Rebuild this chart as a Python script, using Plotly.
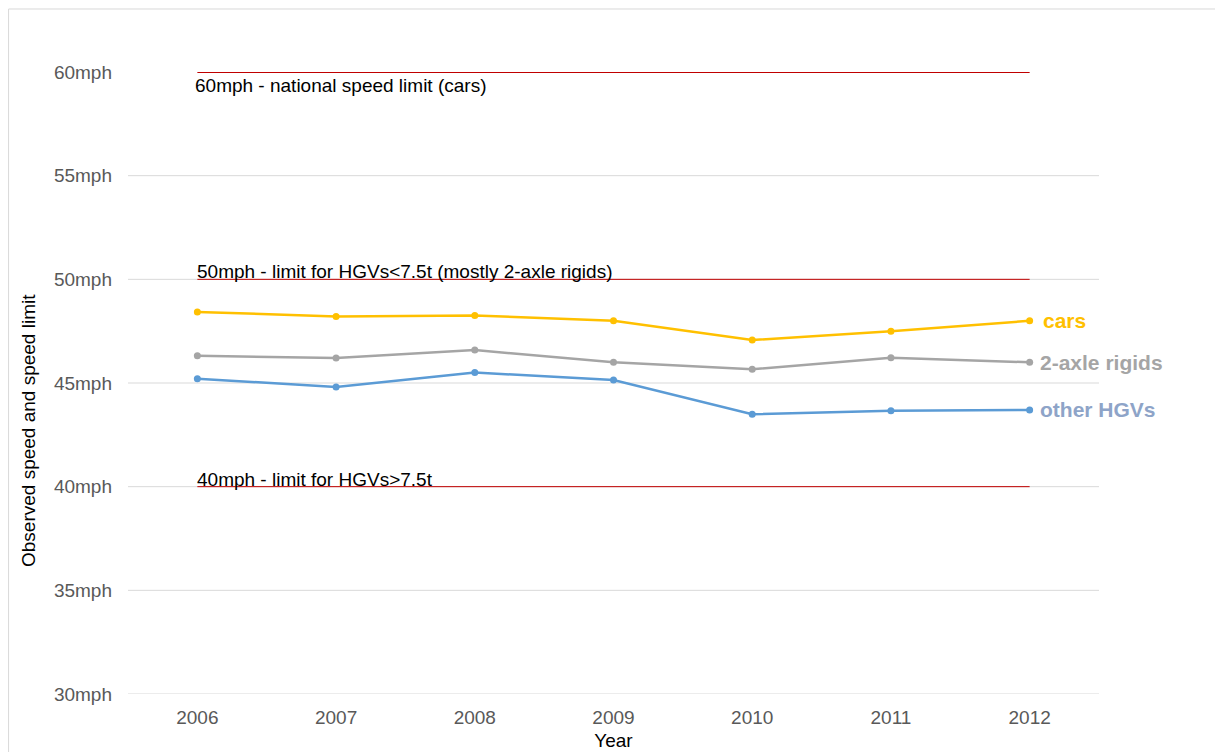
import plotly.graph_objects as go

years = ["2006", "2007", "2008", "2009", "2010", "2011", "2012"]
cars = [48.43, 48.21, 48.26, 48.00, 47.07, 47.50, 48.00]
rigids = [46.32, 46.20, 46.59, 46.00, 45.66, 46.22, 46.00]
other_hgvs = [45.21, 44.81, 45.51, 45.14, 43.49, 43.66, 43.70]

series_names = ["cars", "2-axle rigids", "other HGVs"]
series_values = [cars, rigids, other_hgvs]
line_colors = ["#FFC000", "#A5A5A5", "#5B9BD5"]
label_colors = ["#FFC000", "#A5A5A5", "#8EA4C8"]

limit_values = [60, 50, 40]
limit_labels = ["60mph - national speed limit (cars)",
                "50mph - limit for HGVs&lt;7.5t (mostly 2-axle rigids)",
                "40mph - limit for HGVs&gt;7.5t"]

y_ticks = [30, 35, 40, 45, 50, 55, 60]
y_ticktext = [f"{v}mph" for v in y_ticks]
grid_vals = [30, 35, 40, 45, 50, 55]

FONT = "Liberation Sans, Arial, sans-serif"
first_idx = 0
last_idx = len(years) - 1

fig = go.Figure()

shapes = []
for g in grid_vals:
    shapes.append(dict(type="line", xref="paper", yref="y", x0=0, x1=1, y0=g, y1=g,
                       line=dict(color="#D9D9D9", width=1), layer="below"))
for v in limit_values:
    shapes.append(dict(type="line", xref="x", yref="y", x0=first_idx, x1=last_idx, y0=v, y1=v,
                       line=dict(color="#C00000", width=2 if v == 60 else 1), layer="below"))
# outer border (top and left)
shapes.append(dict(type="line", xref="paper", yref="paper", x0=-0.1230, x1=1.2, y0=1.1013, y1=1.1013,
                   line=dict(color="#D9D9D9", width=1)))
shapes.append(dict(type="line", xref="paper", yref="paper", x0=-0.1230, x1=-0.1230, y0=-0.2, y1=1.1013,
                   line=dict(color="#D9D9D9", width=1)))

for name, vals, col in zip(series_names, series_values, line_colors):
    fig.add_trace(go.Scatter(x=years, y=vals, mode="lines+markers", name=name,
                             line=dict(color=col, width=2.5),
                             marker=dict(color=col, size=7)))

annotations = []
for name, vals, col in zip(series_names, series_values, label_colors):
    annotations.append(dict(x=last_idx, y=vals[-1], xref="x", yref="y", text=f"<b>{name}</b>",
                            showarrow=False, xanchor="left", yanchor="middle",
                            xshift=8 if name != "cars" else 11,
                            font=dict(family=FONT, size=21, color=col)))

for v, txt in zip(limit_values, limit_labels):
    if v == 60:
        annotations.append(dict(x=first_idx, y=v, xref="x", yref="y", text=txt, showarrow=False,
                                xanchor="left", yanchor="top", xshift=-4, yshift=-1,
                                font=dict(family=FONT, size=19, color="#000000")))
    else:
        annotations.append(dict(x=first_idx, y=v, xref="x", yref="y", text=txt, showarrow=False,
                                xanchor="left", yanchor="bottom", xshift=-2, yshift=-5,
                                font=dict(family=FONT, size=19, color="#000000")))

# y-axis title (placed slightly below the plot centre, as in the original)
annotations.append(dict(x=-0.103, y=0.4244, xref="paper", yref="paper",
                        text="Observed speed and speed limit", textangle=-90, showarrow=False,
                        xanchor="center", yanchor="middle",
                        font=dict(family=FONT, size=19, color="#000000")))

fig.update_layout(
    width=1215, height=744,
    margin=dict(l=120, r=124, t=64, b=58, autoexpand=False),
    paper_bgcolor="white", plot_bgcolor="white",
    showlegend=False,
    shapes=shapes,
    annotations=annotations,
    font=dict(family=FONT, size=19, color="#595959"),
    xaxis=dict(type="category", range=[-0.5, 6.5], showgrid=False, zeroline=False, showline=False,
               automargin=False,
               tickfont=dict(family=FONT, size=19, color="#595959"), ticklabelstandoff=10,
               title=dict(text="Year", font=dict(family=FONT, size=19, color="#000000"), standoff=6)),
    yaxis=dict(range=[30, 60], tickvals=y_ticks, ticktext=y_ticktext, showgrid=False, zeroline=False,
               showline=False, automargin=False,
               tickfont=dict(family=FONT, size=19, color="#595959"), ticklabelstandoff=15),
)

fig.write_html("out.html")
